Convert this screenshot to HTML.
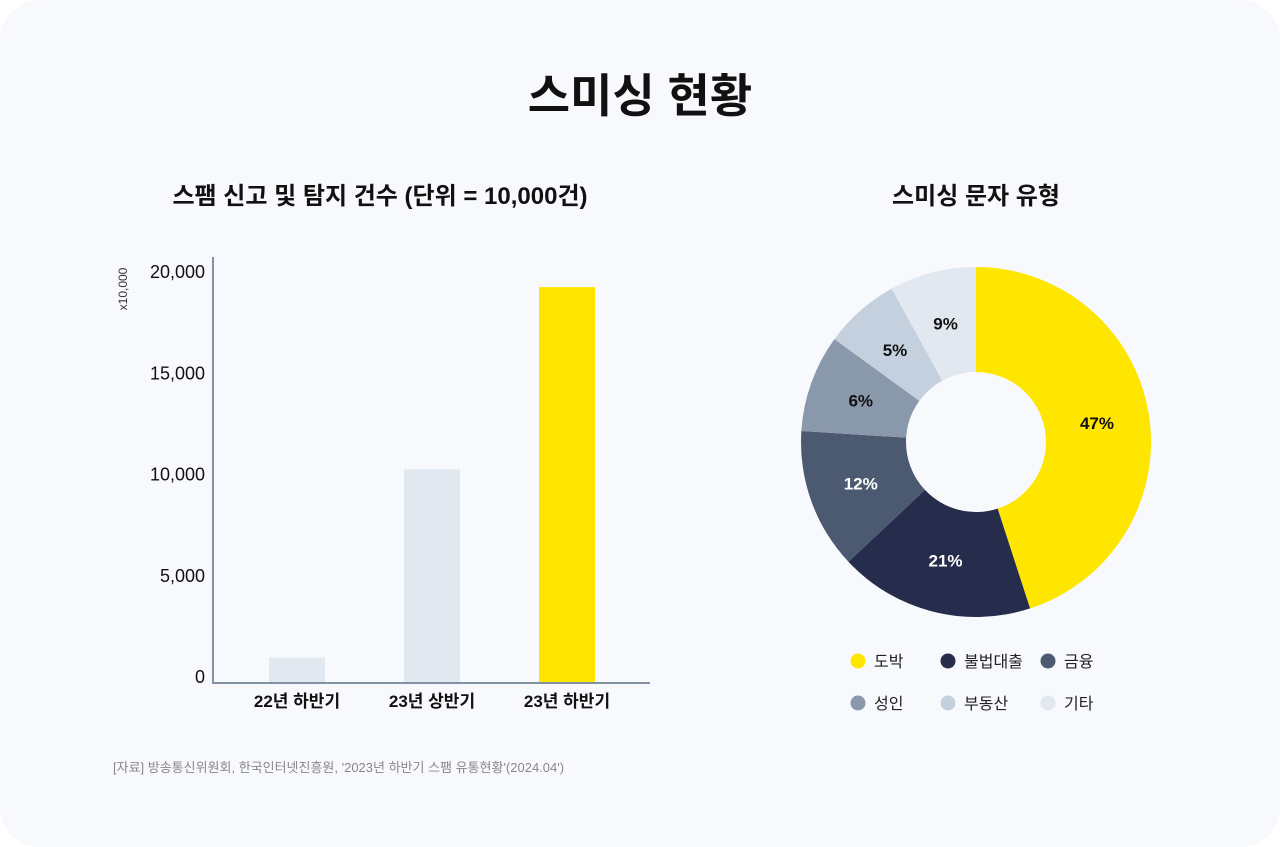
<!DOCTYPE html>
<html><head><meta charset="utf-8"><style>
body{margin:0;width:1280px;height:847px;background:#fff;overflow:hidden;font-family:"Liberation Sans","Noto Sans CJK KR",sans-serif;}
#card{position:absolute;left:0;top:0;width:1280px;height:847px;background:#f7f9fc;border-radius:40px;}
</style></head><body>
<div id="card">
<svg width="1280" height="847" style="position:absolute;left:0;top:0" font-family="Liberation Sans, Noto Sans CJK KR, sans-serif">
<text x="640" y="112" text-anchor="middle" font-size="46" font-weight="bold" fill="#111">스미싱 현황</text>
<text x="380" y="204" text-anchor="middle" font-size="24" font-weight="bold" fill="#111">스팸 신고 및 탐지 건수 (단위 = 10,000건)</text>
<text x="976" y="204" text-anchor="middle" font-size="24" font-weight="bold" fill="#111">스미싱 문자 유형</text>
<text x="127" y="289" font-size="12" fill="#333" transform="rotate(-90 127 289)" text-anchor="middle">x10,000</text>
<g id="bars"></g>
<g id="donut"></g>
<g id="legend"></g>
<text x="113" y="772" font-size="13" fill="#888">[자료] 방송통신위원회, 한국인터넷진흥원, '2023년 하반기 스팸 유통현황'(2024.04')</text>
</svg>
</div>
<script>
const barCategories=["22년 하반기","23년 상반기","23년 하반기"];
const barValues=[1200,10500,19500];
const barColors=["#e2e8f0","#e2e8f0","#ffe600"];
const yTicks=[0,5000,10000,15000,20000];
const yTickLabels=["0","5,000","10,000","15,000","20,000"];
const sliceLabels=["도박","불법대출","금융","성인","부동산","기타"];
const sliceValues=[45,18,13,9,7,8];
const slicePrinted=["47%","21%","12%","6%","5%","9%"];
const sliceColors=["#ffe600","#262c4b","#4b5a70","#8a98ab","#c4d0de","#e2e8f0"];
const sliceTextColors=["#111","#fff","#fff","#111","#111","#111"];
const NS="http://www.w3.org/2000/svg";
function mk(tag,attrs,parent){const e=document.createElementNS(NS,tag);for(const k in attrs)e.setAttribute(k,attrs[k]);parent.appendChild(e);return e;}
const y0=682,yMax=20000,plotH=405;
const yScale=v=>y0-v/yMax*plotH;
const xLeft=213,xRight=650,band=135,firstCenter=297,bw=56;
const xScale=i=>firstCenter+i*band;
const bars=document.getElementById('bars');
yTicks.forEach((t,i)=>{const tx=mk('text',{x:205,y:yScale(t)+1,'text-anchor':'end','font-size':18,fill:'#111'},bars);tx.textContent=yTickLabels[i];

});
barValues.forEach((v,i)=>{const r=mk('rect',{x:xScale(i)-bw/2,y:yScale(v),width:bw,height:y0-yScale(v),fill:barColors[i]},bars);


const tx=mk('text',{x:xScale(i),y:707,'text-anchor':'middle','font-size':17,'font-weight':'bold',fill:'#111'},bars);tx.textContent=barCategories[i];

});
const ya=mk('line',{x1:xLeft,y1:257,x2:xLeft,y2:y0+1,stroke:'#8291a3','stroke-width':2},bars);


const xa=mk('line',{x1:xLeft-1,y1:y0+1,x2:xRight,y2:y0+1,stroke:'#8291a3','stroke-width':2},bars);


const cx=976,cy=442,R=175,r0=70;
const donut=document.getElementById('donut');
const total=sliceValues.reduce((a,b)=>a+b,0);
let acc=0;
const pt=(a,rad)=>[cx+rad*Math.sin(a),cy-rad*Math.cos(a)];
sliceValues.forEach((v,i)=>{const a0=acc/total*2*Math.PI;acc+=v;const a1=acc/total*2*Math.PI;const lg=(a1-a0)>Math.PI?1:0;
const p0=pt(a0,R),p1=pt(a1,R),q1=pt(a1,r0),q0=pt(a0,r0);
const p=mk('path',{d:`M${p0[0]},${p0[1]} A${R},${R} 0 ${lg} 1 ${p1[0]},${p1[1]} L${q1[0]},${q1[1]} A${r0},${r0} 0 ${lg} 0 ${q0[0]},${q0[1]} Z`,fill:sliceColors[i]},donut);


const am=(a0+a1)/2,lp=pt(am,(R+r0)/2);
const tx=mk('text',{x:lp[0],y:lp[1]+6,'text-anchor':'middle','font-size':17,'font-weight':'bold',fill:sliceTextColors[i]},donut);tx.textContent=slicePrinted[i];

});
const legend=document.getElementById('legend');
const lx=[858,948,1048],ly=[661,703];
sliceLabels.forEach((l,i)=>{const x=lx[i%3],y=ly[Math.floor(i/3)];
const c=mk('circle',{cx:x,cy:y,r:7.5,fill:sliceColors[i]},legend);


const tx=mk('text',{x:x+16,y:y+6,'font-size':16,fill:'#222'},legend);tx.textContent=l;

});
</script>
</body></html>
